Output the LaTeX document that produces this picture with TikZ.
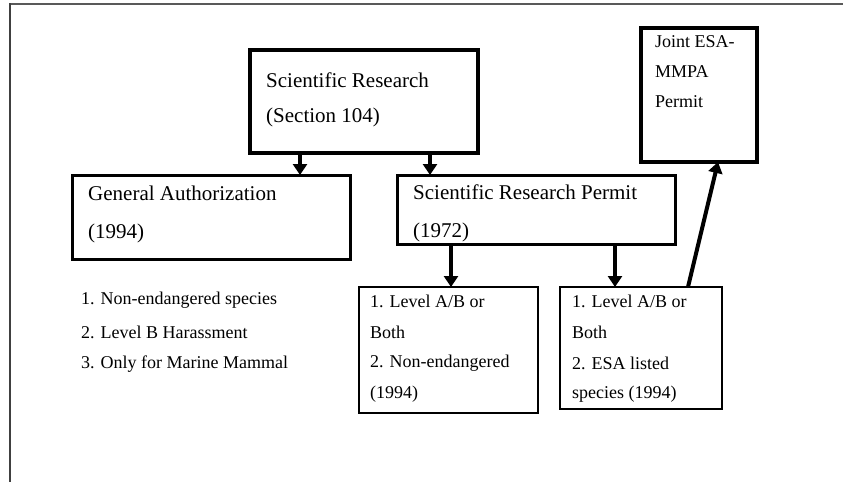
\documentclass[tikz,border=0pt]{standalone}
\usepackage{fontspec}
\setmainfont{Liberation Serif}
\usetikzlibrary{arrows.meta,calc}
\begin{document}
\begin{tikzpicture}[x=1pt,y=-1pt,
 box/.style={draw=black,rectangle,anchor=north west,inner sep=0pt,outer sep=0pt},
 thickbox/.style={box,line width=4pt},
 midbox/.style={box,line width=3pt},
 thinbox/.style={box,line width=1.6pt},
 big/.style={anchor=west,inner sep=0pt,font=\fontsize{21}{25}\selectfont},
 small/.style={anchor=west,inner sep=0pt,font=\fontsize{18}{22}\selectfont},
 arr/.style={line width=4pt,-{Triangle[width=14pt,length=11pt]}},
 ]
\useasboundingbox (0,0) rectangle (843,482);
\fill[white] (0,0) rectangle (843,482);
\draw[line width=2.5pt,black!65] (10,4) -- (843,4);
\draw[line width=2pt,black!75] (10,3) -- (10,482);

% boxes
\node[thickbox,minimum width=228pt,minimum height=103pt] (sr) at (250,50) {};
\node[thickbox,minimum width=116pt,minimum height=134pt] (jt) at (641,28) {};
\node[midbox,minimum width=278pt,minimum height=84pt] (ga) at (72,175) {};
\node[midbox,minimum width=278pt,minimum height=69pt] (srp) at (397,175) {};
\node[thinbox,minimum width=179pt,minimum height=126pt] (sub1) at (359,287) {};
\node[thinbox,minimum width=162pt,minimum height=122pt] (sub2) at (560,287) {};

% texts
\node[big] (t1) at (266,80) {Scientific Research};
\node[big] (t2) at (266,117) {(Section 104)};
\node[small] (j1) at (655,42) {Joint ESA-};
\node[small] (j2) at (655,72) {MMPA};
\node[small] (j3) at (655,102) {Permit};
\node[big] (g1) at (88,193) {General Authorization};
\node[big] (g2) at (88,233) {(1994)};
\node[big] (p1) at (413,192) {Scientific Research Permit};
\node[big] (p2) at (413,232) {(1972)};
\node[small] (l1) at (81,300) {1. Non-endangered species};
\node[small] (l2) at (81,332) {2. Level B Harassment};
\node[small] (l3) at (81,364) {3. Only for Marine Mammal};
\node[small] (a1) at (370,301) {1. Level A/B or};
\node[small] (a2) at (370,332) {Both};
\node[small] (a3) at (370,363) {2. Non-endangered};
\node[small] (a4) at (370,394) {(1994)};
\node[small] (b1) at (572,301) {1. Level A/B or};
\node[small] (b2) at (572,332) {Both};
\node[small] (b3) at (572,363) {2. ESA listed};
\node[small] (b4) at (572,394) {species (1994)};

% connectors
\coordinate (c1) at ([xshift=50pt]sr.south west);
\coordinate (c2) at ([xshift=180pt]sr.south west);
\coordinate (c3) at ([xshift=54pt]srp.south west);
\coordinate (c4) at ([xshift=218pt]srp.south west);
\coordinate (c5) at ([xshift=128pt]sub2.north west);
\coordinate (c6) at ([xshift=77pt]jt.south west);
\draw[arr] (c1) -- (c1 |- ga.north);
\draw[arr] (c2) -- (c2 |- srp.north);
\draw[arr] (c3) -- (c3 |- sub1.north);
\draw[arr] (c4) -- (c4 |- sub2.north);
\draw[arr] (c5) -- (c6);
\end{tikzpicture}
\end{document}
